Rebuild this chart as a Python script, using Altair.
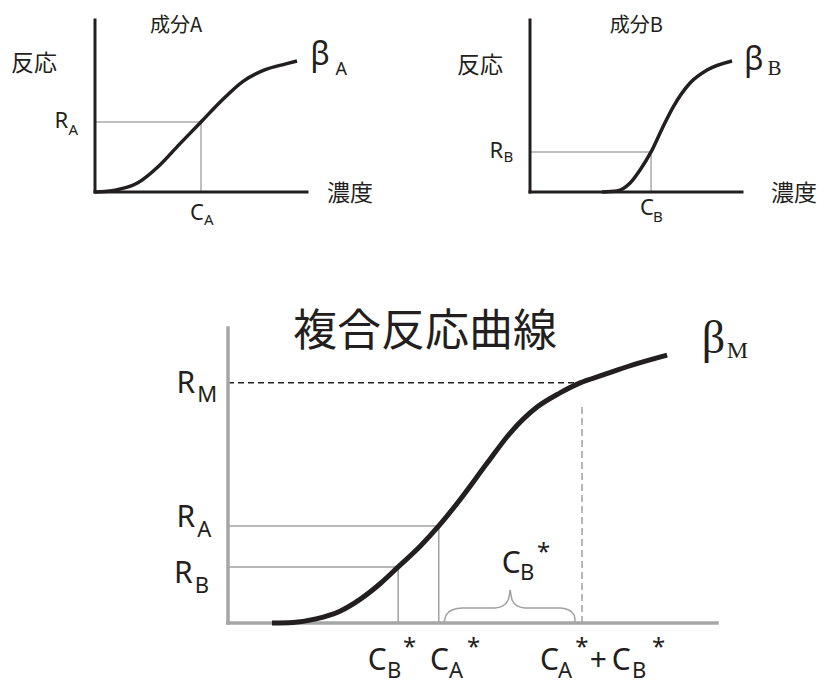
import altair as alt
import pandas as pd

# ---------------- data (concentration c, response r; both 0..10 per panel) -------------
# component A dose-response curve
a_conc = [0, 1, 2, 3, 4, 5, 6, 7, 8, 9, 9.53]
a_resp = [0, 0.12, 0.52, 1.50, 2.80, 4.07, 5.35, 6.45, 7.10, 7.45, 7.62]
a_CA, a_RA = 5.0, 4.07

# component B dose-response curve
b_conc = [3.40, 4.10, 4.72, 5.19, 5.71, 6.27, 6.75, 7.55, 8.35, 9.53]
b_resp = [0, 0.06, 0.52, 1.28, 2.33, 3.78, 4.94, 6.34, 7.09, 7.62]
b_CB, b_RB = 5.71, 2.33

# combined (mixture) response curve
m_conc = [0.90, 1.33, 1.80, 2.29, 2.70, 3.11, 3.48, 3.93, 4.31, 4.74, 5.30, 5.77,
          6.32, 6.79, 7.20, 7.67, 8.28, 8.98]
m_resp = [0, 0.02, 0.14, 0.40, 0.80, 1.33, 1.90, 2.60, 3.29, 4.17, 5.42, 6.44,
          7.32, 7.80, 8.14, 8.41, 8.75, 9.08]
m_CBs, m_RB = 3.48, 1.90
m_CAs, m_RA = 4.31, 3.29
m_CAB, m_RM = 7.24, 8.14
m_RM_end = 7.20
m_dash_top = 7.46

# brace marking C_B* (two halves meeting at the tip)
brace_l_c = [4.42, 4.46, 4.58, 4.79, 5.46, 5.62, 5.73, 5.77]
brace_l_r = [0.03, 0.27, 0.44, 0.51, 0.51, 0.58, 0.78, 1.12]
brace_r_c = [5.77, 5.81, 5.91, 6.07, 6.79, 6.97, 7.08, 7.10]
brace_r_r = [1.12, 0.78, 0.58, 0.51, 0.51, 0.44, 0.27, 0.03]

# ---------------- layout -------------
OFF = 8
FRAMES = {"A": (95, 307, 192, 20), "B": (530, 742, 192, 20), "M": (228, 717, 623, 328)}
SANS = "Noto Sans"
CJK = "Noto Sans CJK JP"
SERIF = "Liberation Serif"
INK = "#231f20"


def xs(p):
    f = FRAMES[p]
    return alt.Scale(domain=[0, 10], range=[f[0] - OFF, f[1] - OFF], nice=False, zero=False)


def ys(p):
    f = FRAMES[p]
    return alt.Scale(domain=[0, 10], range=[f[2] - OFF, f[3] - OFF], nice=False, zero=False)


def curve(p, cs, rs, width, color=INK, interp="monotone", dash=None):
    df = pd.DataFrame({"c": cs, "r": rs, "i": list(range(len(cs)))})
    kw = dict(color=color, strokeWidth=width, interpolate=interp, strokeCap="butt")
    if dash:
        kw["strokeDash"] = dash
    return alt.Chart(df).mark_line(**kw).encode(
        x=alt.X("c:Q", scale=xs(p), axis=None),
        y=alt.Y("r:Q", scale=ys(p), axis=None),
        order="i:Q",
    )


def segs(p, rows, color, width, dash=None, cap="butt"):
    df = pd.DataFrame(rows, columns=["x1", "y1", "x2", "y2"])
    kw = dict(color=color, strokeWidth=width, strokeCap=cap)
    if dash:
        kw["strokeDash"] = dash
    return alt.Chart(df).mark_rule(**kw).encode(
        x=alt.X("x1:Q", scale=xs(p), axis=None),
        x2="x2:Q",
        y=alt.Y("y1:Q", scale=ys(p), axis=None),
        y2="y2:Q",
    )


def texts(p, rows, size, font, align, color=INK):
    df = pd.DataFrame(rows, columns=["c", "r", "t"])
    return alt.Chart(df).mark_text(
        align=align, baseline="alphabetic", fontSize=size, font=font, color=color
    ).encode(
        x=alt.X("c:Q", scale=xs(p), axis=None),
        y=alt.Y("r:Q", scale=ys(p), axis=None),
        text="t:N",
    )


layers = []

# ---- panel A ----
layers += [
    segs("A", [[0, a_RA, a_CA, a_RA], [a_CA, 0, a_CA, a_RA]], "#aaaaaa", 1.5),
    segs("A", [[0, 0, 0, 10], [0, 0, 10, 0]], INK, 3, cap="square"),
    curve("A", a_conc, a_resp, 3.5),
    texts("A", [[3.82, 9.33, "成分A"]], 20, CJK, "center"),
    texts("A", [[-2.88, 7.06, "反応"], [12.03, -0.55, "濃度"]], 23, CJK, "center"),
    texts("A", [[-1.27, 3.72, "R"]], 22, SANS, "right"),
    texts("A", [[4.48, -1.63, "C"]], 22, SANS, "left"),
    texts("A", [[-1.25, 3.31, "A"], [5.14, -1.92, "A"]], 15, SANS, "left"),
    texts("A", [[10.15, 7.38, "β"]], 32, SANS, "left"),
    texts("A", [[11.35, 6.80, "A"]], 18, SANS, "left"),
]

# ---- panel B ----
layers += [
    segs("B", [[0, b_RB, b_CB, b_RB], [b_CB, 0, b_CB, b_RB]], "#aaaaaa", 1.5),
    segs("B", [[0, 0, 0, 10], [0, 0, 10, 0]], INK, 3, cap="square"),
    curve("B", b_conc, b_resp, 3.5),
    texts("B", [[5.02, 9.33, "成分B"]], 20, CJK, "center"),
    texts("B", [[-2.36, 6.89, "反応"], [12.45, -0.55, "濃度"]], 23, CJK, "center"),
    texts("B", [[-1.27, 1.98, "R"]], 22, SANS, "right"),
    texts("B", [[5.19, -1.34, "C"]], 22, SANS, "left"),
    texts("B", [[-1.25, 1.74, "B"], [5.80, -1.74, "B"]], 15, SANS, "left"),
    texts("B", [[10.10, 7.09, "β"]], 32, SANS, "left"),
    texts("B", [[11.20, 6.80, "B"]], 21, SERIF, "left"),
]

# ---- panel M ----
layers += [
    segs("M", [[0, m_RA, m_CAs, m_RA], [m_CAs, 0, m_CAs, m_RA],
               [0, m_RB, m_CBs, m_RB], [m_CBs, 0, m_CBs, m_RB]], "#a0a0a0", 1.5),
    segs("M", [[0, m_RM, m_RM_end, m_RM]], "#222222", 1.5, dash=[6, 4]),
    segs("M", [[m_CAB, 0, m_CAB, m_dash_top]], "#a0a0a0", 1.5, dash=[7, 4]),
    curve("M", brace_l_c, brace_l_r, 1.5, color="#a0a0a0"),
    curve("M", brace_r_c, brace_r_r, 1.5, color="#a0a0a0"),
    segs("M", [[0, 0, 0, 10], [0, 0, 10, 0]], "#a6a6a6", 3.5, cap="square"),
    curve("M", m_conc, m_resp, 5),
    texts("M", [[4.03, 9.39, "複合反応曲線"]], 44, CJK, "center"),
    texts("M", [[9.69, 9.15, "β"]], 46, SERIF, "left"),
    texts("M", [[10.20, 8.98, "M"]], 24, SERIF, "left"),
    texts("M", [[-0.67, 7.80, "R"], [-0.67, 3.25, "R"], [-0.72, 1.36, "R"]], 30, SANS, "right"),
    texts("M", [[-0.63, 7.49, "M"], [-0.63, 2.92, "A"], [-0.68, 1.02, "B"]], 22, SANS, "left"),
    texts("M", [[2.86, -1.59, "C"], [4.13, -1.59, "C"], [6.38, -1.59, "C"],
                [7.40, -1.59, "+"], [7.85, -1.59, "C"], [5.60, 1.69, "C"]], 30, SANS, "left"),
    texts("M", [[3.25, -1.86, "B"], [4.52, -1.86, "A"], [6.75, -1.86, "A"],
                [8.26, -1.86, "B"], [5.97, 1.46, "B"]], 22, SANS, "left"),
    texts("M", [[3.58, -1.08, "*"], [4.89, -1.08, "*"], [7.10, -1.08, "*"],
                [8.67, -1.08, "*"], [6.32, 2.14, "*"]], 24, SANS, "left"),
]

chart = alt.layer(*layers).resolve_scale(x="independent", y="independent").properties(
    width=809, height=676, autosize="none", padding=0
).configure_view(stroke=None)

chart.save("out.html", embed_options={"renderer": "svg", "actions": False})
